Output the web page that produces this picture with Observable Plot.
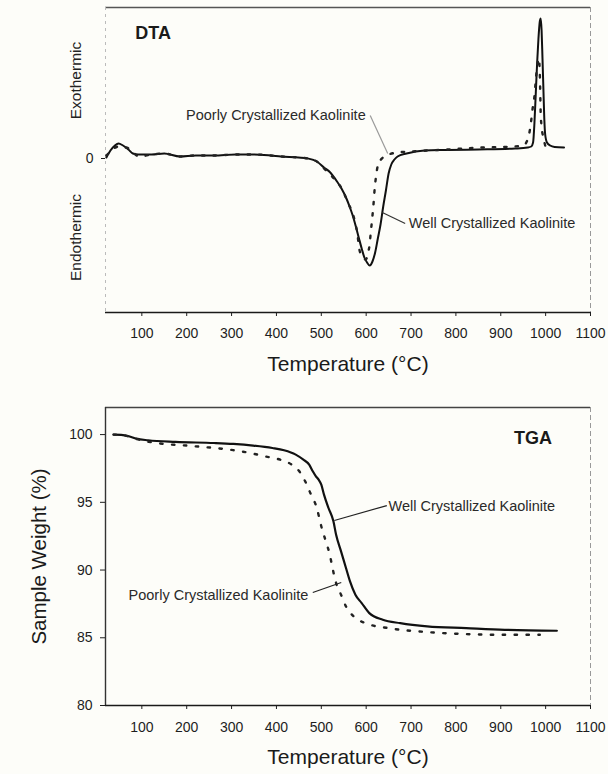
<!DOCTYPE html>
<html><head><meta charset="utf-8">
<script src="https://cdn.jsdelivr.net/npm/d3@7"></script>
<script src="https://cdn.jsdelivr.net/npm/@observablehq/plot@0.6"></script>
<style>
body{margin:0;background:#fdfdf9;}
#c{width:608px;height:774px;overflow:hidden;}
#c svg{display:block;}
</style>
</head><body><div id="c"></div>
<script>
// ---------- DATA ----------
const xTicks = [100, 200, 300, 400, 500, 600, 700, 800, 900, 1000, 1100];
const dtaYTicks = [0];
const tgaYTicks = [80, 85, 90, 95, 100];

// DTA, well crystallized kaolinite (solid) — temperature (°C), signal (arb. units)
const dtaWellT = [21,30,40,48,58,70,80,92,122,150,185,220,261,309,350,387,410,449,470,490,506,520,535,545,556,563,570,577,584,590,596,602,608,614,620,626,632,638,644,650,656,663,670,690,730,780,850,932,960,968,972,975,978,981,984,987,989,991,993,995,997,999,1003,1010,1020,1041];
const dtaWellV = [1,8,13,15,13,9,5,4,4,5,2,3,3,4,4,3,2,1,0,-3,-9,-14,-23,-30,-40,-48,-57,-68,-80,-90,-99,-104,-107,-103,-94,-80,-66,-48,-32,-15,-6,-1,2,5,8,8.5,9,10,11,12,16,35,65,95,120,137,140,128,100,70,40,24,16,13,11.5,11];

// DTA, poorly crystallized kaolinite (dotted)
const dtaPoorT = [21,30,48,71,94,122,150,185,220,261,309,350,387,410,449,470,490,506,520,532,548,559,570,577,581,584,592,599,605,608,610,613,617,619,622,626,635,645,670,700,780,860,930,950,958,963,967,971,975,978,982,985,987,989,991,995,999];
const dtaPoorV = [3,7,12,10,2,4,5,2,3,3,4,4,3,2,1,0,-3,-10,-16,-22,-32,-44,-55,-67,-77,-89,-99,-101,-93,-85,-75,-62,-42,-30,-18,-7,0,3,6,7,9,11,12,13,17,24,35,50,62,78,95,100,85,45,32,21,13];

// TGA, well crystallized kaolinite (solid) — temperature (°C), sample weight (%)
const tgaWellT = [37,54,71,88,114,175,261,304,348,391,417,443,460,473,481,488,494,500,506,516,527,533,544,555,564,576,590,607,637,676,736,823,909,1025];
const tgaWellW = [100,99.98,99.88,99.7,99.58,99.46,99.38,99.31,99.19,99.01,98.84,98.52,98.15,97.78,97.29,96.92,96.67,96.3,95.57,94.58,93.6,92.6,91.38,90.15,89.16,88.18,87.56,86.82,86.33,86.08,85.84,85.71,85.59,85.52];

// TGA, poorly crystallized kaolinite (dotted)
const tgaPoorT = [37,60,80,110,132,218,304,347,373,408,434,451,464,477,490,499,510,519,525,533,544,555,572,598,650,736,823,909,987];
const tgaPoorW = [100,99.95,99.75,99.5,99.38,99.14,98.85,98.6,98.4,98.15,97.78,97.29,96.55,95.57,94.58,93.35,92.12,91.13,90.15,89.04,88.18,87.32,86.58,86.08,85.71,85.42,85.27,85.22,85.22];

// Annotations (data coordinates)
const labelPoorly = "Poorly Crystallized Kaolinite";
const labelWell = "Well Crystallized Kaolinite";
const dtaPoorLabelAt = [599, 43];   // text ends here
const dtaWellLabelAt = [695, -65];  // text starts here
const dtaLeaders = [[609, 43, 648, 5, "#9a9a9a"], [636, -54, 687, -65, "#333"]];

const tgaWellLabelAt = [650, 94.68]; // text starts here
const tgaPoorLabelAt = [471, 88.12]; // text ends here
const tgaLeaders = [[529, 93.66, 646, 94.76], [481, 88.34, 544.5, 89.08]];

// ---------- BUILD ----------
const zipXY = (xs, ys) => xs.map((x, i) => ({x, y: ys[i]}));
const dtaWell = zipXY(dtaWellT, dtaWellV);
const dtaPoor = zipXY(dtaPoorT, dtaPoorV);
const tgaWell = zipXY(tgaWellT, tgaWellW);
const tgaPoor = zipXY(tgaPoorT, tgaPoorW);

const font = "'Liberation Sans', Arial, Helvetica, sans-serif";
const xDomain = [19, 1100];
const fmt = d3.format("d");
const note = (label, at, anchor) =>
  Plot.text([label], {x: [at[0]], y: [at[1]], text: d => d, textAnchor: anchor, lineAnchor: "middle", fontSize: 14.5, fill: "#2a2a2a"});

const dtaChart = Plot.plot({
  width: 608, height: 380,
  marginLeft: 105, marginRight: 18, marginTop: 7, marginBottom: 68,
  style: {fontFamily: font, fontSize: "14px", color: "#1e1e1e", background: "transparent", overflow: "visible"},
  x: {domain: xDomain, ticks: xTicks, tickFormat: fmt, tickSize: 4, tickPadding: 12, label: null},
  y: {domain: [-154, 151], ticks: dtaYTicks, tickSize: 4, tickPadding: 8, label: null},
  marks: [
    Plot.ruleY([151], {stroke: "#555", strokeWidth: 1.5}),
    Plot.ruleX([xDomain[0]], {stroke: "#bbb", strokeWidth: 1, strokeDasharray: "3,4"}),
    Plot.ruleX([xDomain[1]], {stroke: "#999", strokeWidth: 1, strokeDasharray: "5,3"}),
    Plot.ruleY([-154], {stroke: "#1a1a1a", strokeWidth: 1.6}),
    Plot.line(dtaWell, {x: "x", y: "y", stroke: "#111", strokeWidth: 2, curve: "monotone-x"}),
    Plot.line(dtaPoor, {x: "x", y: "y", stroke: "#222", strokeWidth: 2.4, strokeDasharray: "2.4,9", curve: "monotone-x"}),
    Plot.link(dtaLeaders, {x1: d => d[0], y1: d => d[1], x2: d => d[2], y2: d => d[3], stroke: d => d[4], strokeWidth: 1.2}),
    note(labelPoorly, dtaPoorLabelAt, "end"),
    note(labelWell, dtaWellLabelAt, "start"),
    Plot.text(["DTA"], {x: [125], y: [125], text: d => d, fontSize: 18, fontWeight: "bold", fill: "#1a1a1a"}),
    Plot.text(["Exothermic", "Endothermic"], {y: [78, -79], text: d => d, frameAnchor: "left", textAnchor: "middle", lineAnchor: "middle", dx: -29, rotate: -90, fontSize: 15.5, fill: "#222"}),
    Plot.text(["Temperature (°C)"], {text: d => d, frameAnchor: "bottom", textAnchor: "middle", lineAnchor: "middle", dy: 52, fontSize: 21, fill: "#1a1a1a"})
  ]
});

const tgaChart = Plot.plot({
  width: 608, height: 394,
  marginLeft: 105, marginRight: 18, marginTop: 27, marginBottom: 69,
  style: {fontFamily: font, fontSize: "14px", color: "#1e1e1e", background: "transparent", overflow: "visible"},
  x: {domain: xDomain, ticks: xTicks, tickFormat: fmt, tickSize: 4, tickPadding: 13, label: null},
  y: {domain: [80, 102], ticks: tgaYTicks, tickSize: 5, tickPadding: 8, label: null},
  marks: [
    Plot.ruleY([102], {stroke: "#444", strokeWidth: 1.5}),
    Plot.ruleX([xDomain[0]], {stroke: "#333", strokeWidth: 1.4}),
    Plot.ruleX([xDomain[1]], {stroke: "#999", strokeWidth: 1, strokeDasharray: "5,3"}),
    Plot.ruleY([80], {stroke: "#1a1a1a", strokeWidth: 1.6}),
    Plot.line(tgaWell, {x: "x", y: "y", stroke: "#111", strokeWidth: 2.2, curve: "monotone-x"}),
    Plot.line(tgaPoor, {x: "x", y: "y", stroke: "#222", strokeWidth: 2.4, strokeDasharray: "2.4,9.5", curve: "monotone-x"}),
    Plot.link(tgaLeaders, {x1: d => d[0], y1: d => d[1], x2: d => d[2], y2: d => d[3], stroke: "#222", strokeWidth: 1.2}),
    note(labelWell, tgaWellLabelAt, "start"),
    note(labelPoorly, tgaPoorLabelAt, "end"),
    Plot.text(["TGA"], {x: [972], y: [99.71], text: d => d, fontSize: 18, fontWeight: "bold", fill: "#1a1a1a"}),
    Plot.text(["Sample Weight (%)"], {text: d => d, frameAnchor: "left", textAnchor: "middle", lineAnchor: "middle", dx: -66, rotate: -90, fontSize: 20.5, fill: "#1a1a1a"}),
    Plot.text(["Temperature (°C)"], {text: d => d, frameAnchor: "bottom", textAnchor: "middle", lineAnchor: "middle", dy: 52, fontSize: 21, fill: "#1a1a1a"})
  ]
});

const c = document.getElementById("c");
c.appendChild(dtaChart);
c.appendChild(tgaChart);
</script>
</body></html>
